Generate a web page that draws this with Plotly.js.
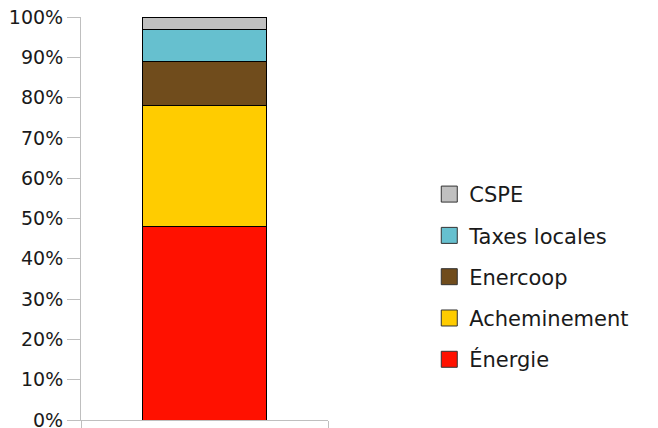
<!DOCTYPE html>
<html>
<head>
<meta charset="utf-8">
<script src="https://cdn.plot.ly/plotly-3.0.1.min.js"></script>
<style>html,body{margin:0;padding:0;background:#fff;}#chart{width:658px;height:428px;}</style>
</head>
<body>
<div id="chart"></div>
<script>
const category = ["Facture"];
const seriesNames = ["Énergie", "Acheminement", "Enercoop", "Taxes locales", "CSPE"];
const seriesValues = [0.48, 0.30, 0.11, 0.08, 0.03];
const seriesColors = ["#ff1100", "#ffcc00", "#704c1c", "#66c0cf", "#c0c0c0"];
const yTickVals = [0, 0.1, 0.2, 0.3, 0.4, 0.5, 0.6, 0.7, 0.8, 0.9, 1.0];

const FONT = "DejaVu Sans, sans-serif";
const traces = [];
seriesNames.forEach((name, i) => {
  traces.push({
    type: "bar",
    x: category,
    y: [seriesValues[i]],
    name: name,
    showlegend: false,
    marker: {color: seriesColors[i], line: {color: "#000", width: 1}},
    width: 0.5,
    hoverinfo: "name+y"
  });
});
// legend proxies (larger square symbols), top entry = last series
for (let i = seriesNames.length - 1; i >= 0; i--) {
  traces.push({
    type: "scatter",
    mode: "markers",
    x: [null],
    y: [null],
    name: seriesNames[i],
    legendgroup: "g" + i,
    marker: {symbol: "square", size: 16, color: seriesColors[i], line: {color: "#333", width: 1}},
    hoverinfo: "skip"
  });
}

const layout = {
  width: 658,
  height: 428,
  margin: {l: 81, r: 330, t: 17, b: 8},
  paper_bgcolor: "#fff",
  plot_bgcolor: "#fff",
  barmode: "stack",
  showlegend: true,
  font: {family: FONT, size: 19, color: "#1a1a1a"},
  xaxis: {
    type: "category",
    range: [-0.5, 0.5],
    showticklabels: false,
    showgrid: false,
    zeroline: false,
    showline: true,
    linecolor: "#bfbfbf",
    linewidth: 1,
    ticks: "outside",
    tickson: "boundaries",
    ticklen: 8,
    tickcolor: "#bfbfbf",
    fixedrange: true
  },
  yaxis: {
    range: [0, 1],
    tickvals: yTickVals,
    tickformat: ".0%",
    ticklabeloverflow: "allow",
    showgrid: false,
    zeroline: false,
    showline: true,
    linecolor: "#bfbfbf",
    linewidth: 1,
    ticks: "outside",
    ticklen: 13,
    tickcolor: "#bfbfbf",
    tickfont: {family: FONT, size: 19, color: "#1a1a1a"},
    fixedrange: true
  },
  legend: {
    x: 1.41,
    xanchor: "left",
    y: 0.355,
    yanchor: "middle",
    traceorder: "grouped",
    tracegroupgap: 11,
    itemsizing: "trace",
    font: {family: FONT, size: 21, color: "#1a1a1a"},
    bgcolor: "rgba(0,0,0,0)"
  }
};

Plotly.newPlot("chart", traces, layout, {displayModeBar: false, staticPlot: true});
</script>
</body>
</html>
